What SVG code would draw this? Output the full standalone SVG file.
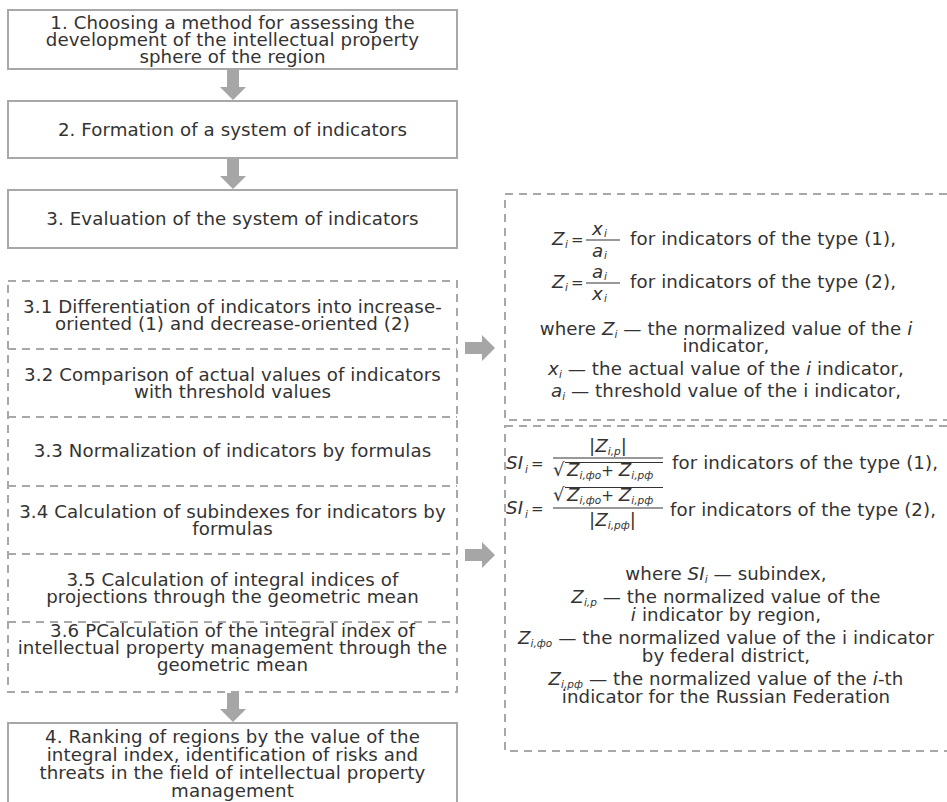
<svg xmlns="http://www.w3.org/2000/svg" width="947" height="802" viewBox="0 0 947 802">
<style>
.box{fill:#fff;stroke:#a8a8a8;stroke-width:2}
.dash{fill:none;stroke:#a8a8a8;stroke-width:2;stroke-dasharray:8 6}
.arr{fill:#a6a6a6}
text{font-family:"DejaVu Sans","Liberation Sans",sans-serif;font-size:18.2px;letter-spacing:0.1px;fill:#333}
.c{text-anchor:middle}
.it{font-style:italic}
.sub{font-size:10.5px;font-style:italic;letter-spacing:0}
.eq{font-size:15px}
.bar{stroke:#333;stroke-width:1.2}
</style>
<rect width="947" height="802" fill="#fff"/>

<g id="connectors">
<polygon class="arr" points="227,70 239,70 239,87 246,87 233,100 220,87 227,87"/>
<polygon class="arr" points="227,159 239,159 239,176 246,176 233,189 220,176 227,176"/>
<polygon class="arr" points="227,693 239,693 239,709 246,709 233,722 220,709 227,709"/>
<polygon class="arr" points="465,342 482,342 482,335 495,348 482,361 482,354 465,354"/>
<polygon class="arr" points="465,549 482,549 482,542 495,555 482,568 482,561 465,561"/>
</g>

<g id="step1">
<rect class="box" x="8" y="10" width="449" height="59"/>
<text class="c" x="232.5" y="29">1. Choosing a method for assessing the</text>
<text class="c" x="232.5" y="46">development of the intellectual property</text>
<text class="c" x="232.5" y="63">sphere of the region</text>
</g>

<g id="step2">
<rect class="box" x="8" y="101" width="449" height="57"/>
<text class="c" x="232.5" y="136">2. Formation of a system of indicators</text>
</g>

<g id="step3">
<rect class="box" x="8" y="190" width="449" height="58"/>
<text class="c" x="232.5" y="225">3. Evaluation of the system of indicators</text>
</g>

<g id="substeps">
<rect class="dash" x="8" y="281" width="449" height="411"/>
<line class="dash" x1="8" y1="349" x2="457" y2="349"/>
<line class="dash" x1="8" y1="417" x2="457" y2="417"/>
<line class="dash" x1="8" y1="486" x2="457" y2="486"/>
<line class="dash" x1="8" y1="554" x2="457" y2="554"/>
<line class="dash" x1="8" y1="622" x2="457" y2="622"/>
</g>

<g id="step3_1">
<text class="c" x="232.5" y="313">3.1 Differentiation of indicators into increase-</text>
<text class="c" x="232.5" y="330">oriented (1) and decrease-oriented (2)</text>
</g>
<g id="step3_2">
<text class="c" x="232.5" y="381">3.2 Comparison of actual values of indicators</text>
<text class="c" x="232.5" y="398">with threshold values</text>
</g>
<g id="step3_3">
<text class="c" x="232.5" y="457">3.3 Normalization of indicators by formulas</text>
</g>
<g id="step3_4">
<text class="c" x="232.5" y="518">3.4 Calculation of subindexes for indicators by</text>
<text class="c" x="232.5" y="535">formulas</text>
</g>
<g id="step3_5">
<text class="c" x="232.5" y="586">3.5 Calculation of integral indices of</text>
<text class="c" x="232.5" y="603">projections through the geometric mean</text>
</g>
<g id="step3_6">
<text class="c" x="232.5" y="637">3.6 PCalculation of the integral index of</text>
<text class="c" x="232.5" y="654">intellectual property management through the</text>
<text class="c" x="232.5" y="671">geometric mean</text>
</g>

<g id="step4">
<rect class="box" x="8" y="723" width="449" height="100"/>
<text class="c" x="232.5" y="743">4. Ranking of regions by the value of the</text>
<text class="c" x="232.5" y="761">integral index, identification of risks and</text>
<text class="c" x="232.5" y="779">threats in the field of intellectual property</text>
<text class="c" x="232.5" y="797">management</text>
</g>

<g id="normalization">
<rect class="dash" x="505" y="194" width="460" height="226"/>
<text class="it" x="552" y="245">Z</text><text class="sub" x="565" y="248">i</text><text class="eq" x="571" y="245">=</text>
<line class="bar" x1="586" y1="240" x2="620" y2="240"/>
<text class="it" x="592" y="235">x</text><text class="sub" x="604" y="237">i</text>
<text class="it" x="592" y="257">a</text><text class="sub" x="604" y="259">i</text>
<text x="630" y="245">for indicators of the type (1),</text>

<text class="it" x="552" y="288">Z</text><text class="sub" x="565" y="291">i</text><text class="eq" x="571" y="288">=</text>
<line class="bar" x1="586" y1="283" x2="620" y2="283"/>
<text class="it" x="592" y="278">a</text><text class="sub" x="604" y="280">i</text>
<text class="it" x="592" y="300">x</text><text class="sub" x="604" y="302">i</text>
<text x="630" y="288">for indicators of the type (2),</text>

<text class="c" x="726" y="335">where <tspan class="it">Z</tspan><tspan class="sub" dy="3">i</tspan><tspan dy="-3"> — the normalized value of the </tspan><tspan class="it">i</tspan></text>
<text class="c" x="726" y="352">indicator,</text>
<text class="c" x="726" y="375"><tspan class="it">x</tspan><tspan class="sub" dy="3">i</tspan><tspan dy="-3"> — the actual value of the </tspan><tspan class="it">i</tspan> indicator,</text>
<text class="c" x="726" y="397"><tspan class="it">a</tspan><tspan class="sub" dy="3">i</tspan><tspan dy="-3"> — threshold value of the i indicator,</tspan></text>
</g>

<g id="subindex">
<rect class="dash" x="505" y="426" width="460" height="325"/>
<text class="it" x="506" y="469">SI</text><text class="sub" x="525" y="473">i</text><text class="eq" x="531" y="469">=</text>
<line class="bar" x1="553" y1="458" x2="663" y2="458"/>
<text x="589" y="452">|<tspan class="it">Z</tspan><tspan class="sub" dy="3">i,p</tspan><tspan dy="-3">|</tspan></text>
<text x="553" y="476">√</text>
<line class="bar" x1="565" y1="462.5" x2="663" y2="462.5"/>
<text x="567" y="476"><tspan class="it">Z</tspan><tspan class="sub" dy="3">i,фо</tspan><tspan class="eq" dy="-3">+ </tspan><tspan class="it">Z</tspan><tspan class="sub" dy="3">i,рф</tspan></text>
<text x="672" y="469">for indicators of the type (1),</text>

<text class="it" x="506" y="514">SI</text><text class="sub" x="525" y="518">i</text><text class="eq" x="531" y="514">=</text>
<line class="bar" x1="553" y1="508" x2="663" y2="508"/>
<text x="553" y="501">√</text>
<line class="bar" x1="565" y1="487.5" x2="663" y2="487.5"/>
<text x="567" y="501"><tspan class="it">Z</tspan><tspan class="sub" dy="3">i,фо</tspan><tspan class="eq" dy="-3">+ </tspan><tspan class="it">Z</tspan><tspan class="sub" dy="3">i,рф</tspan></text>
<text x="589" y="526">|<tspan class="it">Z</tspan><tspan class="sub" dy="3">i,рф</tspan><tspan dy="-3">|</tspan></text>
<text x="670" y="516">for indicators of the type (2),</text>

<text class="c" x="726" y="580">where <tspan class="it">SI</tspan><tspan class="sub" dy="3">i</tspan><tspan dy="-3"> — subindex,</tspan></text>
<text class="c" x="726" y="603"><tspan class="it">Z</tspan><tspan class="sub" dy="3">i,p</tspan><tspan dy="-3"> — the normalized value of the</tspan></text>
<text class="c" x="726" y="621"><tspan class="it">i</tspan> indicator by region,</text>
<text class="c" x="726" y="644"><tspan class="it">Z</tspan><tspan class="sub" dy="3">i,фо</tspan><tspan dy="-3"> — the normalized value of the i indicator</tspan></text>
<text class="c" x="726" y="662">by federal district,</text>
<text class="c" x="726" y="685"><tspan class="it">Z</tspan><tspan class="sub" dy="3">i,рф</tspan><tspan dy="-3"> — the normalized value of the </tspan><tspan class="it">i</tspan>-th</text>
<text class="c" x="726" y="703">indicator for the Russian Federation</text>
</g>
</svg>
